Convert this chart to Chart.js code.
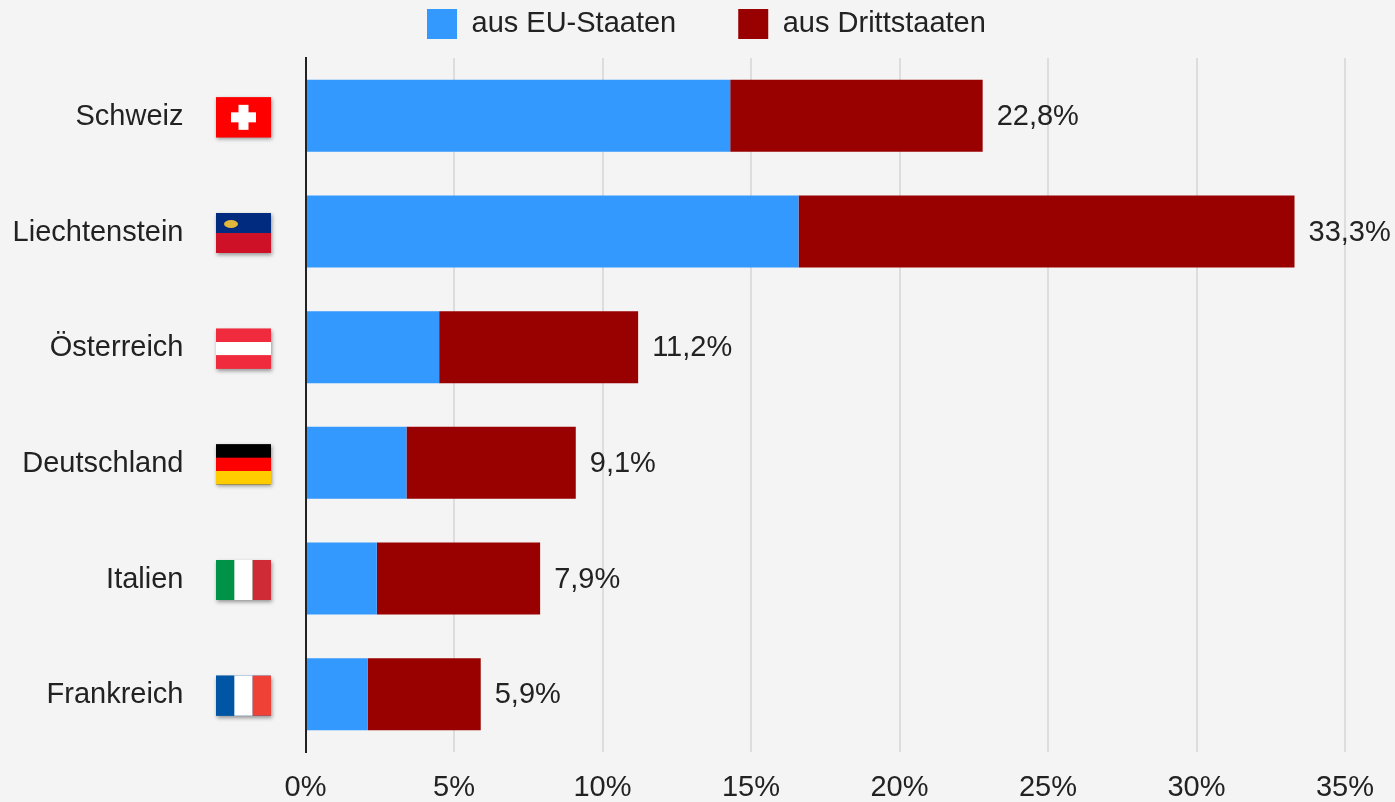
<!DOCTYPE html>
<html lang="de">
<head>
<meta charset="utf-8">
<title>Ausländeranteil</title>
<script src="https://cdn.jsdelivr.net/npm/chart.js@4"></script>
<style>
    html, body { margin: 0; background: #f4f4f4; }
    #wrap { width: 1395px; height: 802px; }
</style>
</head>
<body>
<div id="wrap"><canvas id="chart"></canvas></div>
<script>
// Values, in percent
const categories = ['Schweiz', 'Liechtenstein', 'Österreich', 'Deutschland', 'Italien', 'Frankreich'];
const euValues = [14.3, 16.6, 4.5, 3.4, 2.4, 2.1];
const thirdValues = [8.5, 16.7, 6.7, 5.7, 5.5, 3.8];
const totalLabels = ['22,8%', '33,3%', '11,2%', '9,1%', '7,9%', '5,9%'];
const seriesNames = ['aus EU-Staaten', 'aus Drittstaaten'];

const fontFamily = '"Liberation Sans", Arial, sans-serif';
const fontSize = 29;
const textColor = '#222222';

// Flag stripes per country, 'h' = stacked, 'v' = side by side
const flags = {
    'Schweiz': { dir: 'h', colors: ['#ff0000'] },
    'Liechtenstein': { dir: 'h', colors: ['#002b7f', '#ce1126'] },
    'Österreich': { dir: 'h', colors: ['#ef2b3d', '#ffffff', '#ef2b3d'] },
    'Deutschland': { dir: 'h', colors: ['#000000', '#ff0000', '#ffcc00'] },
    'Italien': { dir: 'v', colors: ['#009246', '#ffffff', '#ce2b37'] },
    'Frankreich': { dir: 'v', colors: ['#0055a4', '#ffffff', '#ef4135'] }
};

function drawFlag(ctx, name, x, y, w, h) {
    const flag = flags[name];
    ctx.save();
    ctx.shadowColor = 'rgba(0, 0, 0, 0.4)';
    ctx.shadowBlur = 4;
    ctx.shadowOffsetX = 1;
    ctx.shadowOffsetY = 2;
    ctx.fillStyle = flag.colors[0];
    ctx.fillRect(x, y, w, h);
    ctx.restore();

    const n = flag.colors.length;
    flag.colors.forEach((c, i) => {
        ctx.fillStyle = c;
        if (flag.dir === 'h') ctx.fillRect(x, y + h * i / n, w, h / n);
        else ctx.fillRect(x + w * i / n, y, w / n, h);
    });

    if (name === 'Schweiz') {
        ctx.fillStyle = '#ffffff';
        ctx.fillRect(x + 15, y + 15, 25, 10);
        ctx.fillRect(x + 22.5, y + 7.5, 10, 25);
    }
    if (name === 'Liechtenstein') {
        ctx.fillStyle = '#e0b83c';
        ctx.beginPath();
        ctx.ellipse(x + 15, y + 11, 7, 4, 0, 0, Math.PI * 2);
        ctx.fill();
    }
}

// Flags next to the category labels and the totals behind the bars
const extrasPlugin = {
    id: 'extras',
    afterLayout(chart) {
        // legend sits higher and further right than the default centring
        const legend = chart.legend;
        const padding = legend.options.labels.padding;
        legend.top = 9 - padding;
        const shift = 427 - (legend.left + padding + legend.right - legend.lineWidths[0]) / 2;
        legend.left += shift;
        legend.right += shift;
    },
    afterDatasetsDraw(chart) {
        const ctx = chart.ctx;
        const xScale = chart.scales.x;
        const yScale = chart.scales.y;
        categories.forEach((name, i) => {
            const yMid = yScale.getPixelForValue(i);
            drawFlag(ctx, name, 216, yMid - 18.5, 55, 40);

            const total = euValues[i] + thirdValues[i];
            ctx.save();
            ctx.font = fontSize + 'px ' + fontFamily;
            ctx.fillStyle = textColor;
            ctx.textAlign = 'left';
            ctx.textBaseline = 'middle';
            ctx.fillText(totalLabels[i], xScale.getPixelForValue(total) + 14, yMid + 1);
            ctx.restore();
        });
    }
};

new Chart(document.getElementById('chart'), {
    type: 'bar',
    data: {
        labels: categories,
        datasets: [
            { label: seriesNames[0], data: euValues, backgroundColor: '#3399ff' },
            { label: seriesNames[1], data: thirdValues, backgroundColor: '#990000' }
        ]
    },
    options: {
        indexAxis: 'y',
        responsive: true,
        maintainAspectRatio: false,
        animation: false,
        layout: { padding: { left: 0, right: 50, top: 0, bottom: 0 } },
        datasets: { bar: { categoryPercentage: 0.623, barPercentage: 1 } },
        plugins: {
            legend: {
                position: 'top',
                maxHeight: 58,
                labels: {
                    boxWidth: 30,
                    boxHeight: 30,
                    padding: 62,
                    color: textColor,
                    font: { family: fontFamily, size: fontSize }
                }
            },
            tooltip: { enabled: false }
        },
        scales: {
            x: {
                stacked: true,
                min: 0,
                max: 35,
                afterFit(scale) {
                    scale.height = 50;
                    scale.paddingLeft = 0;
                    scale.paddingRight = 0;
                },
                ticks: {
                    stepSize: 5,
                    padding: 19,
                    maxRotation: 0,
                    color: textColor,
                    font: { family: fontFamily, size: fontSize },
                    callback: v => v + '%'
                },
                grid: { color: '#dddddd', lineWidth: 2, drawTicks: false },
                border: { display: false }
            },
            y: {
                stacked: true,
                afterFit(scale) {
                    scale.width = 305.5;
                    // tick padding also counts as vertical padding otherwise
                    scale.paddingTop = 0;
                    scale.paddingBottom = 0;
                },
                ticks: {
                    padding: 122,
                    labelOffset: 1,
                    color: textColor,
                    font: { family: fontFamily, size: fontSize }
                },
                grid: { display: false, drawTicks: false },
                border: { display: true, color: '#222222', width: 2, z: 1 }
            }
        }
    },
    plugins: [extrasPlugin]
});
</script>
</body>
</html>
